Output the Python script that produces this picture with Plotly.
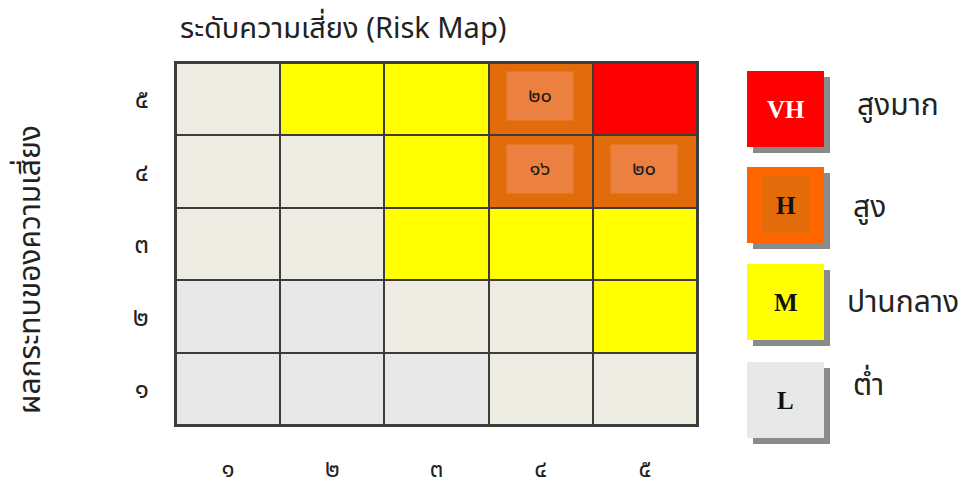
import plotly.graph_objects as go

# ---------------- data ----------------
likelihood_labels = ["๑", "๒", "๓", "๔", "๕"]   # x axis (columns)
impact_labels = ["๑", "๒", "๓", "๔", "๕"]       # y axis (rows, bottom -> top)

# risk level code per cell: 0 = L (grey), 1 = low (beige), 2 = M, 3 = H, 4 = VH
row_impact_1 = [0, 0, 0, 1, 1]
row_impact_2 = [0, 0, 1, 1, 2]
row_impact_3 = [1, 1, 2, 2, 2]
row_impact_4 = [1, 1, 2, 3, 3]
row_impact_5 = [1, 2, 2, 3, 4]

cell_label_x = [4, 4, 5]
cell_label_y = [5, 4, 4]
cell_label_text = ["๒๐", "๑๖", "๒๐"]

legend_codes = ["VH", "H", "M", "L"]
legend_names = ["สูงมาก", "สูง", "ปานกลาง", "ต่ำ"]

title_text = "ระดับความเสี่ยง (Risk Map)"
y_title_text = "ผลกระทบของความเสี่ยง"

# ---------------- style ----------------
W, H = 969, 487          # page size
OFF = 8                  # default body margin of the html page
FW, FH = W - OFF, H - OFF
L, R, T, B = 176, 697, 63, 425   # plot area in page pixels
THAI = "Tahoma, 'Noto Sans Thai', 'Noto Sans', sans-serif"
SERIF = "'Liberation Serif', 'Times New Roman', serif"

level_colors = ["#E8E8E8", "#EEECE1", "#FFFF00", "#E36C0A", "#FF0000"]


def px(x):
    return (x - L) / (R - L)


def py(y):
    return (B - y) / (B - T)


n = len(level_colors)
colorscale = []
for i, c in enumerate(level_colors):
    colorscale.append([i / n, c])
    colorscale.append([(i + 1) / n, c])

z = [row_impact_1, row_impact_2, row_impact_3, row_impact_4, row_impact_5]
xs = list(range(1, len(likelihood_labels) + 1))
ys = list(range(1, len(impact_labels) + 1))

fig = go.Figure()
fig.add_trace(go.Heatmap(
    x=xs, y=ys, z=z,
    colorscale=colorscale, zmin=-0.5, zmax=n - 0.5,
    showscale=False, xgap=2, ygap=2, hoverinfo="skip",
))

# cell labels with lighter boxes
for cx, cy, t in zip(cell_label_x, cell_label_y, cell_label_text):
    fig.add_annotation(
        x=cx, y=cy, xref="x", yref="y", text=t, showarrow=False,
        font=dict(family=THAI, size=20, color="#1a1a1a"),
        bgcolor="#EC8040", width=64, height=46, yshift=3, xshift=-1,
    )

# legend boxes (decoration)
legend_fill = ["#FF0000", "#FF6600", "#FFFF00", "#E8E8E8"]
legend_text_color = ["#FFFFFF", "#111111", "#111111", "#111111"]
legend_box_top = [71, 167, 264, 362]
legend_label_x = [898, 870, 903, 868]
legend_label_y = [106, 208, 303, 386]
for i in range(4):
    top = legend_box_top[i]
    x0, x1, y0, y1 = 747, 824, top, top + 76
    # shadow
    fig.add_shape(type="rect", xref="paper", yref="paper",
                  x0=px(x0 + 6), x1=px(x1 + 6), y0=py(y1 + 6), y1=py(y0 + 6),
                  fillcolor="#8a8a8a", line=dict(width=0), layer="above")
    fig.add_shape(type="rect", xref="paper", yref="paper",
                  x0=px(x0), x1=px(x1), y0=py(y1), y1=py(y0),
                  fillcolor=legend_fill[i], line=dict(width=0), layer="above")
    if legend_codes[i] == "H":
        fig.add_shape(type="rect", xref="paper", yref="paper",
                      x0=px(762), x1=px(809), y0=py(top + 66), y1=py(top + 9),
                      fillcolor="#E36C0A", line=dict(width=0), layer="above")
    fig.add_annotation(x=px((x0 + x1) / 2), y=py(top + 38), xref="paper", yref="paper",
                       xanchor="center", yanchor="middle",
                       text="<b>%s</b>" % legend_codes[i], showarrow=False,
                       font=dict(family=SERIF, size=25, color=legend_text_color[i]))
    fig.add_annotation(x=px(legend_label_x[i]), y=py(legend_label_y[i]),
                       xref="paper", yref="paper", xanchor="center", yanchor="middle",
                       text=legend_names[i],
                       showarrow=False, font=dict(family=THAI, size=30, color="#222222"))

# y axis title (vertical)
fig.add_annotation(x=px(31), y=py(270), xref="paper", yref="paper",
                   xanchor="center", yanchor="middle",
                   text=y_title_text, textangle=-90, showarrow=False,
                   font=dict(family=THAI, size=30, color="#222222"))

fig.update_layout(
    width=FW, height=FH,
    margin=dict(l=L - OFF, r=FW - (R - OFF), t=T - OFF, b=FH - (B - OFF), pad=0),
    paper_bgcolor="white", plot_bgcolor="#3c3c3c",
    title=dict(text=title_text, x=px(180), xref="paper", xanchor="left",
               y=1 - (28 - OFF) / FH, yanchor="middle",
               font=dict(family=THAI, size=29, color="#222222")),
    showlegend=False,
)
fig.update_xaxes(
    tickvals=xs, ticktext=likelihood_labels, range=[0.5, 5.5],
    ticks="outside", ticklen=21, tickcolor="rgba(0,0,0,0)",
    tickfont=dict(family=THAI, size=24, color="#222222"),
    showgrid=False, zeroline=False, showline=True, mirror=True,
    linecolor="#3c3c3c", linewidth=2, automargin=False,
)
fig.update_yaxes(
    tickvals=ys, ticktext=impact_labels, range=[0.5, 5.5],
    ticks="outside", ticklen=20, tickcolor="rgba(0,0,0,0)",
    tickfont=dict(family=THAI, size=26, color="#222222"),
    showgrid=False, zeroline=False, showline=True, mirror=True,
    linecolor="#3c3c3c", linewidth=2, automargin=False,
)

fig.write_html("out.html")
